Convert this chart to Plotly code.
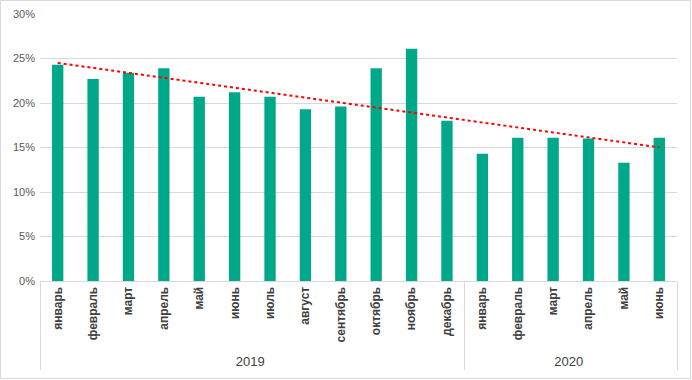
import numpy as np
import plotly.graph_objects as go

years = ["2019"] * 12 + ["2020"] * 6
months = ["январь", "февраль", "март", "апрель", "май", "июнь", "июль", "август",
          "сентябрь", "октябрь", "ноябрь", "декабрь",
          "январь", "февраль", "март", "апрель", "май", "июнь"]
values = [24.3, 22.7, 23.4, 23.9, 20.7, 21.2, 20.7, 19.3, 19.6, 23.9, 26.1, 18.0,
          14.3, 16.1, 16.1, 16.0, 13.3, 16.1]
y_ticks = [0, 5, 10, 15, 20, 25, 30]

vals = np.array(values) / 100.0
idx = np.arange(len(vals))
slope, intercept = np.polyfit(idx, vals, 1)
trend = slope * idx + intercept

x = [[f"<span style='font-size:13px'>{y}</span>" for y in years],
     [f"<b>{m}</b>" for m in months]]

fig = go.Figure()
fig.add_trace(go.Bar(x=x, y=vals, marker_color="#00A88A", marker_line_width=0,
                     showlegend=False))
fig.add_trace(go.Scatter(x=x, y=trend, mode="lines",
                         line=dict(color="#FF0000", width=2, dash="dot"),
                         showlegend=False))

W, H = 692, 380
L, R, T, B = 40, 15, 14, 99
pw, ph = W - L - R, H - T - B

fig.update_layout(
    width=W, height=H,
    margin=dict(l=L, r=R, t=T, b=B, autoexpand=False),
    paper_bgcolor="white", plot_bgcolor="white",
    bargap=0.68,
    font=dict(family="Liberation Sans", color="#595959", size=11),
)
fig.add_shape(type="rect", xref="paper", yref="paper",
              x0=-(L - 0.5) / pw, x1=1 + (R - 1.5) / pw,
              y0=-(B - 1.5) / ph, y1=1 + (T - 0.5) / ph,
              line=dict(color="#D9D9D9", width=1))
fig.update_yaxes(range=[0, 0.30], tickvals=[v / 100 for v in y_ticks],
                 ticktext=[f"{v}%" for v in y_ticks], automargin=False,
                 showgrid=True, gridcolor="#D9D9D9", gridwidth=1,
                 zeroline=False, showline=False, ticks="", ticklabelstandoff=4,
                 tickfont=dict(size=11, color="#595959"))
fig.update_xaxes(type="multicategory", tickangle=-90, showline=True, automargin=False,
                 linecolor="#D9D9D9", linewidth=1, showdividers=True,
                 dividercolor="#D9D9D9", dividerwidth=1,
                 tickfont=dict(size=12, color="#404040", family="Liberation Sans"))

fig.write_html("out.html", config={"displayModeBar": False},
               post_script="document.body.style.margin='0';")
